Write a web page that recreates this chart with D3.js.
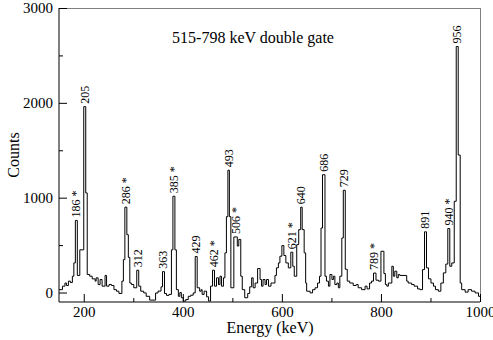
<!DOCTYPE html>
<html>
<head>
<meta charset="utf-8">
<script src="https://cdn.jsdelivr.net/npm/d3@7"></script>
<style>
  body { margin: 0; background: #fff; }
  svg text { font-family: "Liberation Serif", "Times New Roman", serif; fill: #000; }
</style>
</head>
<body>
<svg id="chart" width="493" height="340"></svg>
<script>
// spectrum: left edge of each step (keV) and counts in it
const stepE = [150, 157, 162, 165, 169, 173, 177, 180, 183, 187, 192, 200, 204, 207, 212, 217, 223, 225, 229, 233,
  237, 243, 246, 251, 256, 261, 266, 271, 277, 280, 283, 287, 290, 293, 296, 301, 307, 311, 315, 321,
  326, 333, 345, 350, 356, 359, 363, 367, 372, 377, 380, 384, 387, 391, 394, 397, 401, 406, 411, 416,
  421, 425, 429, 434, 437, 439, 443, 448, 452, 456, 460, 464, 468, 472, 475, 478, 482, 485, 488, 491,
  494, 497, 503, 510, 513, 517, 520, 525, 531, 535, 539, 542, 546, 551, 556, 559, 562, 566, 569, 573,
  578, 581, 586, 589, 593, 596, 600, 604, 608, 613, 618, 622, 625, 630, 634, 638, 641, 645, 648, 650,
  657, 662, 667, 672, 676, 679, 682, 687, 690, 694, 697, 701, 704, 707, 711, 714, 717, 721, 724, 728,
  732, 737, 744, 750, 754, 761, 768, 772, 777, 781, 785, 790, 795, 800, 806, 809, 812, 815, 822, 825,
  828, 832, 835, 838, 852, 855, 862, 867, 874, 879, 884, 888, 892, 896, 901, 906, 910, 916, 921, 926,
  931, 935, 939, 943, 948, 952, 956, 960, 963, 970, 976, 983, 990, 997];
const stepC = [30, 67, 100, 74, 120, 105, 172, 312, 760, 180, 450, 1960, 1050, 190, 172, 144, 120, 155, 84, 137,
  67, 180, 67, 84, 74, 30, 14, -10, 120, 347, 900, 610, 370, 100, 85, 50, 235, 67, 14, -4,
  -40, -80, -5, 15, 60, 220, -10, -30, -20, 450, 1015, 450, 30, -40, 0, -55, -90, -74, -40, -28,
  -4, 380, 50, 14, 30, -20, 14, -45, -90, 67, 235, 67, 155, 84, 172, 67, 155, 418, 800, 1290,
  800, 50, 586, 490, 560, 172, 30, -55, -10, 60, 155, 50, 100, 253, 137, 67, 137, 84, 137, 67,
  100, 100, 180, 260, 312, 383, 495, 390, 312, 260, 425, 277, 172, 505, 663, 900, 663, 418, 100, 14,
  -4, 30, 50, 100, 172, 680, 1242, 172, 120, 67, 190, 137, 172, 84, 100, 50, 172, 575, 1078, 245,
  120, 100, 74, 84, 50, 30, 67, 38, 100, 120, 205, 130, 120, 435, 200, 84, 67, 100, 277, 172,
  225, 155, 190, 180, 120, 100, 84, 67, 38, 30, 242, 640, 260, 144, 100, 67, 30, 14, 100, 207,
  300, 675, 277, 312, 962, 2594, 1450, 100, 30, 4, 30, 14, -4, -40];
const endE = 1000;

// peak labels and the energy of the bin they sit on
const peakLabels = ["186 *", "205", "286 *", "312", "363", "385 *", "429", "462 *", "493", "506 *",
  "621 *", "640", "686", "729", "789 *", "891", "940 *", "956"];
const peakE = [185, 202, 285, 309, 361, 382, 427, 462, 492.5, 506.5, 620, 639.5, 684.5, 726, 787, 890, 937, 954];

const xTicks = [200, 400, 600, 800, 1000];
const xMinor = [300, 500, 700, 900];
const yTicks = [0, 1000, 2000, 3000];
const yMinor = [500, 1500, 2500];

const m = { left: 59, right: 480, top: 8, bottom: 302 };
const serif = '"Liberation Serif", "Times New Roman", serif';

const svg = d3.select('#chart');

const x = d3.scaleLinear().domain([150, 1000]).range([m.left, m.right]);
const y = d3.scaleLinear().domain([-100, 3000]).range([m.bottom, m.top]);

// frame top / right in grey
svg.append('line').attr('x1', m.left).attr('x2', m.right).attr('y1', m.top + 0.5).attr('y2', m.top + 0.5)
  .attr('stroke', '#808080');
svg.append('line').attr('x1', m.right + 0.5).attr('x2', m.right + 0.5).attr('y1', m.top).attr('y2', m.bottom)
  .attr('stroke', '#808080');

// spectrum
const pts = stepE.map((e, i) => [e, stepC[i]]);
pts.push([endE, stepC[stepC.length - 1]]);
const line = d3.line().x(d => x(d[0])).y(d => y(d[1])).curve(d3.curveStepAfter);
svg.append('path').datum(pts)
  .attr('d', line)
  .attr('fill', 'none')
  .attr('stroke', '#000')
  .attr('stroke-width', 1);

// axes
const fmt = d3.format('d');
const xAxis = svg.append('g').attr('transform', `translate(0,${m.bottom})`)
  .call(d3.axisBottom(x).tickValues(xTicks).tickFormat(fmt).tickSize(-8).tickSizeOuter(0).tickPadding(4));
svg.append('g').attr('transform', `translate(0,${m.bottom})`)
  .call(d3.axisBottom(x).tickValues(xMinor).tickSize(-4).tickSizeOuter(0).tickFormat(''))
  .select('.domain').remove();
const yAxis = svg.append('g').attr('transform', `translate(${m.left},0)`)
  .call(d3.axisLeft(y).tickValues(yTicks).tickFormat(fmt).tickSize(-8).tickSizeOuter(0).tickPadding(6));
svg.append('g').attr('transform', `translate(${m.left},0)`)
  .call(d3.axisLeft(y).tickValues(yMinor).tickSize(-4).tickSizeOuter(0).tickFormat(''))
  .select('.domain').remove();

svg.selectAll('g').attr('font-family', serif);
svg.selectAll('.tick text').attr('font-size', 15);
yAxis.select('.domain').attr('d', `M0,${m.top}V${m.bottom}`);
xAxis.select('.domain').attr('d', `M${m.left},0H${m.right}`);

// peak labels
function countAt(e) {
  let i = d3.bisectRight(stepE, e) - 1;
  return stepC[Math.max(0, i)];
}
svg.append('g').selectAll('text')
  .data(peakLabels)
  .enter().append('text')
  .attr('transform', (d, i) => `translate(${x(peakE[i])},${y(countAt(peakE[i])) - 3}) rotate(-90)`)
  .attr('dy', '0.33em')
  .attr('font-size', 12)
  .text(d => d);

// titles
svg.append('text')
  .attr('x', 253).attr('y', 43)
  .attr('text-anchor', 'middle')
  .attr('font-size', 16)
  .text('515-798 keV double gate');

svg.append('text')
  .attr('x', 270).attr('y', 333)
  .attr('text-anchor', 'middle')
  .attr('font-size', 16)
  .text('Energy (keV)');

svg.append('text')
  .attr('transform', `translate(19,${(m.top + m.bottom) / 2}) rotate(-90)`)
  .attr('text-anchor', 'middle')
  .attr('font-size', 16)
  .text('Counts');
</script>
</body>
</html>
